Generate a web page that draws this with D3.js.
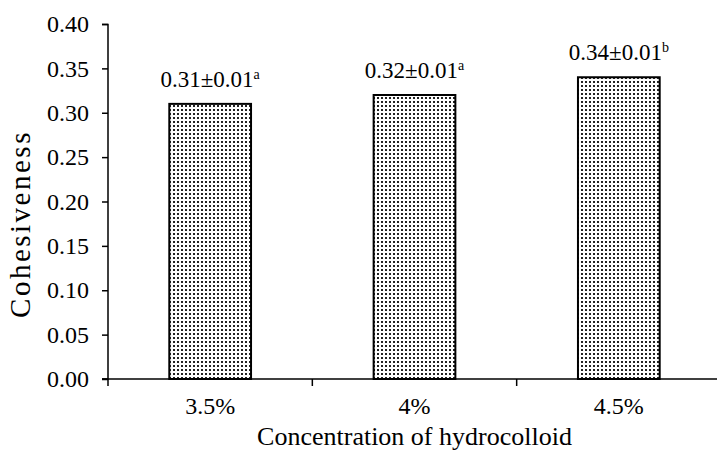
<!DOCTYPE html>
<html>
<head>
<meta charset="utf-8">
<script src="https://cdn.jsdelivr.net/npm/d3@7"></script>
<style>
  body { margin: 0; background: #fff; }
  text { font-family: "Liberation Serif", "Times New Roman", serif; fill: #000; }
</style>
</head>
<body>
<svg id="chart" width="717" height="450"></svg>
<script>
// values
const categories = ['3.5%', '4%', '4.5%']
const means = [0.31, 0.32, 0.34]
const errors = [0.01, 0.01, 0.01]
const letters = ['a', 'a', 'b']
const yTicks = [0, 0.05, 0.10, 0.15, 0.20, 0.25, 0.30, 0.35, 0.40]

const margin = { top: 24, right: -4, bottom: 71, left: 108 }
const width = 717 - margin.left - margin.right
const height = 450 - margin.top - margin.bottom
const serif = '"Liberation Serif", "Times New Roman", serif'

const svg = d3.select('#chart')

// dotted fill like the spreadsheet pattern
const pat = svg.append('defs').append('pattern')
    .attr('id', 'dots')
    .attr('patternUnits', 'userSpaceOnUse')
    .attr('width', 4).attr('height', 4)
pat.append('rect').attr('width', 4).attr('height', 4).attr('fill', '#fff')
pat.append('rect').attr('x', 1).attr('y', 1).attr('width', 2).attr('height', 2).attr('fill', '#222')

const g = svg.append('g').attr('transform', `translate(${margin.left},${margin.top})`)

const x = d3.scaleBand().domain(categories).range([0, width]).padding(0)
const y = d3.scaleLinear().domain([0, 0.4]).range([height, 0])

const barW = x.bandwidth() * 0.4

// y axis
const yAxis = g.append('g')
    .call(d3.axisLeft(y).tickValues(yTicks).tickFormat(d3.format('.2f')).tickSize(6).tickPadding(13))
yAxis.attr('font-family', null).attr('font-size', null)
yAxis.selectAll('text').style('font-family', serif).style('font-size', '24px')
yAxis.selectAll('line, path').attr('stroke', '#000').attr('stroke-width', 1.5)
yAxis.select('.domain').attr('d', `M-6,0.5H0V${height}H-6`)

// x axis: ticks sit on the category boundaries
const xAxis = g.append('g').attr('transform', `translate(0,${height})`)
xAxis.append('line')
    .attr('x1', -6).attr('x2', width)
    .attr('stroke', '#000').attr('stroke-width', 1.5)
xAxis.selectAll('.bound')
    .data(categories)
    .enter().append('line')
    .attr('class', 'bound')
    .attr('x1', d => x(d)).attr('x2', d => x(d))
    .attr('y1', 0).attr('y2', 7)
    .attr('stroke', '#000').attr('stroke-width', 1.5)
xAxis.selectAll('.lab')
    .data(categories)
    .enter().append('text')
    .attr('class', 'lab')
    .attr('x', d => x(d) + x.bandwidth() / 2)
    .attr('y', 35)
    .attr('text-anchor', 'middle')
    .style('font-family', serif)
    .style('font-size', '24px')
    .text(d => d)

// bars
g.selectAll('.bar')
    .data(means)
    .enter().append('rect')
    .attr('class', 'bar')
    .attr('x', (d, i) => x(categories[i]) + (x.bandwidth() - barW) / 2)
    .attr('y', d => y(d))
    .attr('width', barW)
    .attr('height', d => height - y(d))
    .attr('fill', 'url(#dots)')
    .attr('stroke', '#000')
    .attr('stroke-width', 2)

// value labels with significance letters
const labels = g.selectAll('.val')
    .data(means)
    .enter().append('text')
    .attr('class', 'val')
    .attr('x', (d, i) => x(categories[i]) + x.bandwidth() / 2)
    .attr('y', d => y(d) - 17)
    .attr('text-anchor', 'middle')
    .style('font-family', serif)
    .style('font-size', '23px')
labels.append('tspan').text((d, i) => `${d.toFixed(2)}±${errors[i].toFixed(2)}`)
labels.append('tspan')
    .attr('dy', -8)
    .style('font-size', '14px')
    .text((d, i) => letters[i])

// axis titles
svg.append('text')
    .attr('transform', 'translate(30,224) rotate(-90)')
    .attr('text-anchor', 'middle')
    .style('font-family', serif)
    .style('font-size', '29px')
    .style('letter-spacing', '2.5px')
    .text('Cohesiveness')

svg.append('text')
    .attr('x', margin.left + width / 2)
    .attr('y', 445)
    .attr('text-anchor', 'middle')
    .style('font-family', serif)
    .style('font-size', '26px')
    .text('Concentration of hydrocolloid')
</script>
</body>
</html>
